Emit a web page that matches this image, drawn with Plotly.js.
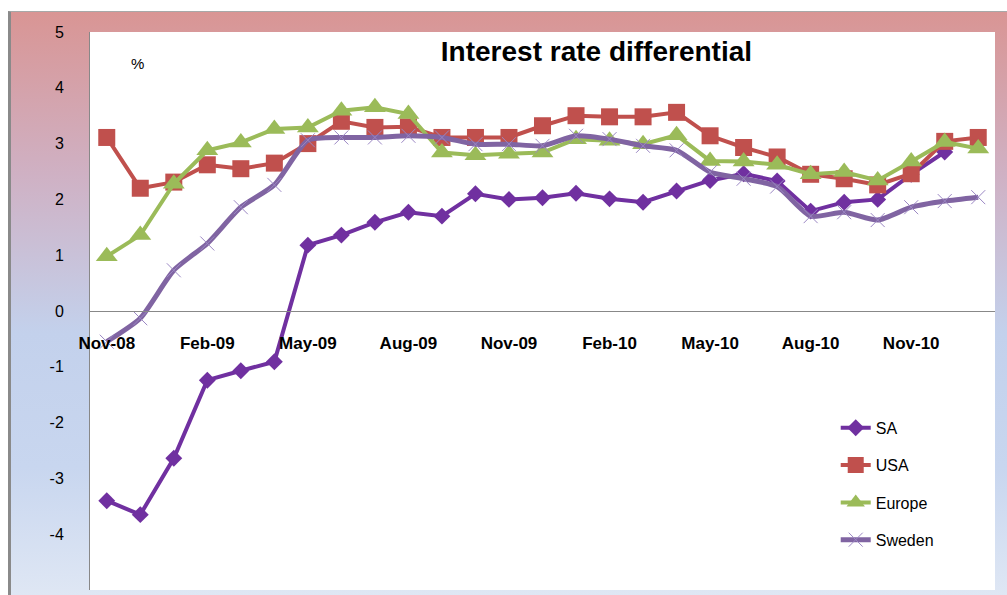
<!DOCTYPE html>
<html>
<head>
<meta charset="utf-8">
<script src="https://cdn.plot.ly/plotly-3.0.1.min.js"></script>
<style>
  body { margin: 0; background: #fff; }
  #bg {
    position: absolute; left: 8px; top: 11px; width: 999px; height: 584px;
    border-left: 3px solid #8a8a8a; border-top: 1px solid #a8a8a8;
    background: linear-gradient(180deg, #d99594 0%, #cfb1c4 28%, #c3d1ec 55%, #c8d6ef 78%, #dfe7f4 100%);
  }
  #chart { position: absolute; left: 0; top: 0; width: 1007px; height: 595px; }
</style>
</head>
<body>
<div id="bg"></div>
<div id="chart"></div>
<script>
// monthly observations, Nov-08 .. Jan-11
let months = ['Nov-08','Dec-08','Jan-09','Feb-09','Mar-09','Apr-09','May-09','Jun-09','Jul-09',
  'Aug-09','Sep-09','Oct-09','Nov-09','Dec-09','Jan-10','Feb-10','Mar-10','Apr-10','May-10',
  'Jun-10','Jul-10','Aug-10','Sep-10','Oct-10','Nov-10','Dec-10','Jan-11'];

let sa = [-3.4, -3.65, -2.64, -1.24, -1.07, -0.91, 1.18, 1.36, 1.59, 1.77, 1.70, 2.10, 2.0, 2.03,
  2.11, 2.01, 1.95, 2.15, 2.34, 2.46, 2.33, 1.79, 1.95, 2.0, 2.45, 2.85, null];
let usa = [3.11, 2.2, 2.31, 2.62, 2.55, 2.65, 3.0, 3.4, 3.29, 3.3, 3.11, 3.11, 3.11, 3.32,
  3.5, 3.48, 3.48, 3.56, 3.14, 2.93, 2.76, 2.45, 2.37, 2.26, 2.46, 3.04, 3.11];
let europe = [0.98, 1.36, 2.28, 2.88, 3.02, 3.26, 3.29, 3.59, 3.65, 3.53, 2.84, 2.79, 2.82, 2.84,
  3.08, 3.05, 2.99, 3.15, 2.69, 2.68, 2.62, 2.45, 2.49, 2.34, 2.68, 3.03, 2.91];
let sweden = [-0.55, -0.13, 0.73, 1.21, 1.86, 2.26, 3.06, 3.11, 3.11, 3.14, 3.11, 2.99, 2.99, 2.96,
  3.14, 3.08, 2.96, 2.88, 2.49, 2.37, 2.23, 1.70, 1.77, 1.63, 1.86, 1.97, 2.04];

let xTicks = ['Nov-08','Feb-09','May-09','Aug-09','Nov-09','Feb-10','May-10','Aug-10','Nov-10'];
let yTickVals = [-5, -4, -3, -2, -1, 0, 1, 2, 3, 4, 5];
let yTickText = ['-5', '-4', '-3', '-2', '-1', '0', '1', '2', '3', '4', '5'];

let traces = [
  {
    name: 'SA', x: months, y: sa, mode: 'lines+markers', type: 'scatter', legendgroup: 'a',
    line: {color: '#7030a0', width: 4},
    marker: {symbol: 'diamond', size: 13, color: '#7030a0'}
  },
  {
    name: 'USA', x: months, y: usa, mode: 'lines+markers', type: 'scatter', legendgroup: 'b',
    line: {color: '#c0504d', width: 4},
    marker: {symbol: 'square', size: 17, color: '#c0504d'}
  },
  {
    name: 'Europe', x: months, y: europe, mode: 'lines+markers', type: 'scatter', legendgroup: 'c',
    line: {color: '#9bbb59', width: 4},
    marker: {symbol: 'triangle-up', size: 19, color: '#9bbb59'}
  },
  {
    name: 'Sweden', x: months, y: sweden, mode: 'lines+markers', type: 'scatter', legendgroup: 'd',
    line: {color: '#8064a2', width: 5, shape: 'spline', smoothing: 0.6},
    marker: {symbol: 'x-thin', size: 14, color: '#9b87c4', line: {color: '#9b87c4', width: 1}}
  }
];

let layout = {
  width: 1007,
  height: 595,
  paper_bgcolor: 'rgba(0,0,0,0)',
  plot_bgcolor: '#ffffff',
  margin: {l: 90, r: 12, t: 32, b: 5},
  font: {family: 'Liberation Sans, Arial, sans-serif', color: '#000'},
  title: {
    text: 'Interest rate differential',
    font: {size: 28, weight: 'bold', color: '#000'},
    xref: 'container', x: 0.5923, xanchor: 'center',
    yref: 'container', y: 0.914, yanchor: 'middle'
  },
  xaxis: {
    type: 'category',
    range: [-0.5, 26.5],
    tickvals: xTicks,
    ticktext: xTicks,
    ticks: '',
    showgrid: false,
    zeroline: false,
    showline: true,
    linecolor: '#888',
    linewidth: 1,
    anchor: 'free',
    position: 0.5,
    ticklabelstandoff: 17,
    tickfont: {size: 17, weight: 'bold'}
  },
  yaxis: {
    range: [-5, 5],
    tickvals: yTickVals,
    ticktext: yTickText,
    ticks: '',
    showgrid: false,
    zeroline: false,
    showline: true,
    linecolor: '#888',
    linewidth: 1,
    ticklabelstandoff: 22,
    tickfont: {size: 16}
  },
  legend: {
    x: 0.824, xanchor: 'left',
    y: 0.321, yanchor: 'top',
    bgcolor: 'rgba(0,0,0,0)',
    font: {size: 16},
    tracegroupgap: 13.5
  },
  annotations: [{
    text: '%', xref: 'paper', yref: 'paper', x: 0.0436, y: 0.963,
    showarrow: false, font: {size: 15}
  }],
  showlegend: true
};

Plotly.newPlot('chart', traces, layout, {displayModeBar: false});
</script>
</body>
</html>
